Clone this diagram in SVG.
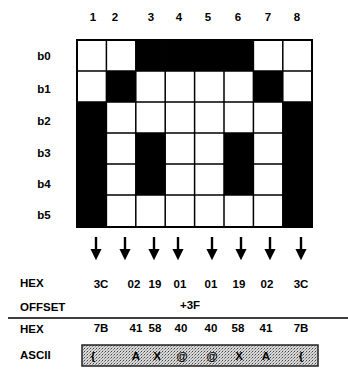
<svg xmlns="http://www.w3.org/2000/svg" width="348" height="380" viewBox="0 0 348 380">
<defs>
<style>
.t{font-family:"Liberation Sans",Arial,sans-serif;font-weight:bold;font-size:11.5px;fill:#000}
.c{text-anchor:middle}
.blk{fill:#000}
.gl{stroke:#000;stroke-width:1.5;fill:none}
.arr{stroke:#000;stroke-width:2.4;fill:none;marker-end:url(#ah)}
</style>
<marker id="ah" markerWidth="12" markerHeight="14" refX="0" refY="0" orient="auto" markerUnits="userSpaceOnUse" viewBox="-1 -7 13 14">
<path d="M-1,-6 L11,0 L-1,6 Z" fill="#000"/>
</marker>
<pattern id="dith" width="3" height="3" patternUnits="userSpaceOnUse">
<rect width="3" height="3" fill="#d8d8d8"/>
<rect x="0" y="0" width="1" height="1" fill="#444"/>
<rect x="2" y="1" width="1" height="1" fill="#888"/>
<rect x="1" y="2" width="1" height="1" fill="#aaa"/>
</pattern>
</defs>
<rect width="348" height="380" fill="#fff"/>

<g id="column-labels" class="t c">
<text x="93" y="21">1</text>
<text x="115" y="21">2</text>
<text x="151" y="21">3</text>
<text x="179" y="21">4</text>
<text x="208" y="21">5</text>
<text x="238" y="21">6</text>
<text x="268" y="21">7</text>
<text x="297" y="21">8</text>
</g>

<g id="row-labels" class="t c">
<text x="44" y="60">b0</text>
<text x="44" y="93">b1</text>
<text x="44" y="125">b2</text>
<text x="44" y="157">b3</text>
<text x="44" y="188">b4</text>
<text x="44" y="219">b5</text>
</g>

<g id="grid">
<rect x="77" y="40" width="235" height="187" fill="#fff"/>
<g id="col1"><rect class="blk" x="77" y="102" width="29.4" height="125"/></g>
<g id="col2"><rect class="blk" x="106.4" y="71" width="29.4" height="31"/></g>
<g id="col3"><rect class="blk" x="135.8" y="40" width="29.4" height="31"/><rect class="blk" x="135.8" y="133" width="29.4" height="62"/></g>
<g id="col4"><rect class="blk" x="165.2" y="40" width="29.4" height="31"/></g>
<g id="col5"><rect class="blk" x="194.6" y="40" width="29.4" height="31"/></g>
<g id="col6"><rect class="blk" x="224" y="40" width="29.4" height="31"/><rect class="blk" x="224" y="133" width="29.4" height="62"/></g>
<g id="col7"><rect class="blk" x="253.4" y="71" width="29.4" height="31"/></g>
<g id="col8"><rect class="blk" x="282.8" y="102" width="29.4" height="125"/></g>
<path class="gl" d="M106.4,40V227M135.8,40V227M165.2,40V227M194.6,40V227M224,40V227M253.4,40V227M282.8,40V227M77,71H312M77,102H312M77,133H312M77,164H312M77,195H312"/>
<rect x="77" y="40" width="235" height="187" fill="none" stroke="#000" stroke-width="2"/>
</g>

<g id="connectors">
<line class="arr" x1="96" y1="237" x2="96" y2="250"/>
<line class="arr" x1="125" y1="237" x2="125" y2="250"/>
<line class="arr" x1="154" y1="237" x2="154" y2="250"/>
<line class="arr" x1="178" y1="237" x2="178" y2="250"/>
<line class="arr" x1="212" y1="237" x2="212" y2="250"/>
<line class="arr" x1="241" y1="237" x2="241" y2="250"/>
<line class="arr" x1="270" y1="237" x2="270" y2="250"/>
<line class="arr" x1="301" y1="237" x2="301" y2="250"/>
</g>

<g id="hex-row" class="t">
<text x="20" y="287">HEX</text>
<g class="c">
<text x="101" y="288">3C</text>
<text x="134" y="288">02</text>
<text x="155" y="288">19</text>
<text x="180" y="288">01</text>
<text x="211" y="288">01</text>
<text x="239" y="288">19</text>
<text x="267" y="288">02</text>
<text x="301" y="288">3C</text>
</g>
</g>

<g id="offset-row" class="t">
<text x="20" y="311">OFFSET</text>
<text class="c" x="190" y="309">+3F</text>
</g>

<line id="divider" x1="8" y1="318" x2="348" y2="318" stroke="#000" stroke-width="1.3"/>

<g id="hex-row-2" class="t">
<text x="20" y="333">HEX</text>
<g class="c">
<text x="101" y="332">7B</text>
<text x="136" y="332">41</text>
<text x="155" y="332">58</text>
<text x="181" y="332">40</text>
<text x="211" y="332">40</text>
<text x="238" y="332">58</text>
<text x="266" y="332">41</text>
<text x="301" y="332">7B</text>
</g>
</g>

<g id="ascii-row" class="t">
<text x="20" y="359">ASCII</text>
<rect x="82" y="345" width="236" height="21" fill="url(#dith)" stroke="#222" stroke-width="1.5"/>
<g class="c">
<text x="93" y="360">{</text>
<text x="136" y="360">A</text>
<text x="157" y="360">X</text>
<text x="182" y="360">@</text>
<text x="212" y="360">@</text>
<text x="239" y="360">X</text>
<text x="266" y="360">A</text>
<text x="301" y="360">{</text>
</g>
</g>
</svg>
